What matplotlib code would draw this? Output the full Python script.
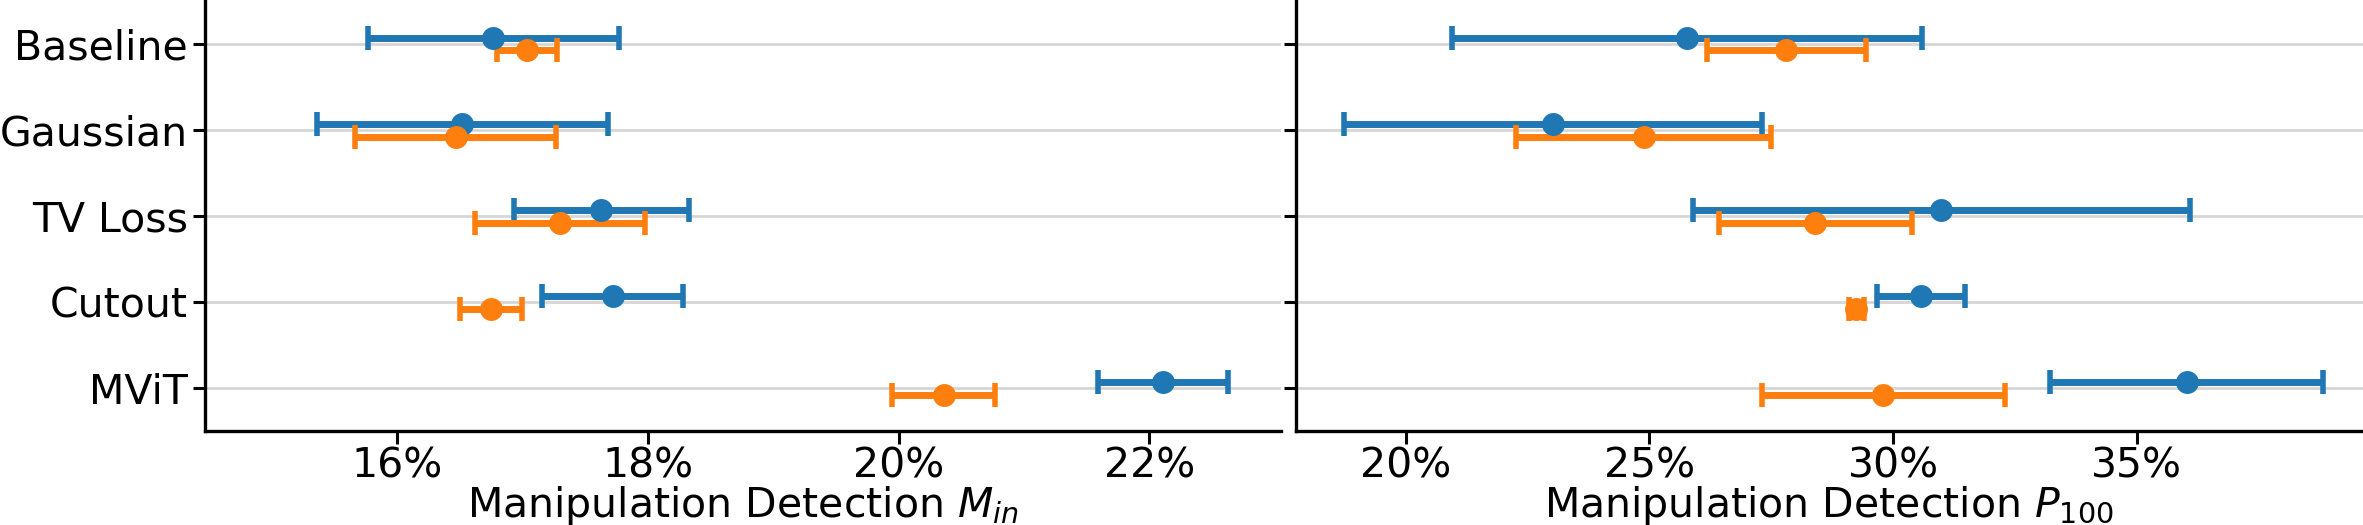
import matplotlib
matplotlib.use('Agg')
import matplotlib.pyplot as plt
from matplotlib.ticker import PercentFormatter, MultipleLocator
import numpy as np

FONT_SIZE = 29.5

plt.rc('font', size=FONT_SIZE)
plt.rc('axes', labelsize=FONT_SIZE, linewidth=2.4)
plt.rc('xtick', labelsize=FONT_SIZE)
plt.rc('ytick', labelsize=FONT_SIZE)

# values, in percent
methods = ['Baseline', 'Gaussian', 'TV Loss', 'Cutout', 'MViT']

min_blue = [16.77, 16.52, 17.63, 17.72, 22.11]
min_blue_err = [1.00, 1.16, 0.70, 0.56, 0.52]
min_orange = [17.04, 16.47, 17.30, 16.75, 20.36]
min_orange_err = [0.24, 0.80, 0.68, 0.25, 0.41]

p100_blue = [25.77, 23.03, 30.99, 30.57, 36.03]
p100_blue_err = [4.83, 4.29, 5.10, 0.90, 2.80]
p100_orange = [27.81, 24.88, 28.40, 29.25, 29.80]
p100_orange_err = [1.63, 2.62, 1.98, 0.15, 2.49]

panels = [
    (r'Manipulation Detection $M_{in}$', min_blue, min_blue_err,
     min_orange, min_orange_err, (14.47, 23.05), 2),
    (r'Manipulation Detection $P_{100}$', p100_blue, p100_blue_err,
     p100_orange, p100_orange_err, (17.74, 39.64), 5),
]


def do_plot():
    W, H = 2363, 525
    f = plt.figure(figsize=(W / 100, H / 100), dpi=100)
    bottom = (H - 431.3) / H
    height = 430.3 / H
    boxes = [(205 / W, bottom, 1076 / W, height),
             (1295.7 / W, bottom, 1067 / W, height)]
    y = np.arange(len(methods))
    off = 0.075
    for i, (label, b, be, o, oe, lim, step) in enumerate(panels):
        ax = f.add_axes(boxes[i])
        ax.grid(axis='y', color='#d6d6d6', linewidth=2, zorder=0)
        ax.set_axisbelow(True)
        for vals, errs, dy, col in [(b, be, -off, '#1f77b4'),
                                    (o, oe, off, '#ff7f0e')]:
            ax.errorbar(vals, y + dy, xerr=errs, fmt='o', color=col,
                        markersize=15.5, elinewidth=5,
                        capsize=8.5, capthick=4, zorder=3)
        ax.set_yticks(y)
        if i == 0:
            ax.set_yticklabels(methods)
        else:
            ax.set_yticklabels([])
        ax.set_ylim(len(methods) - 0.5, -0.5)
        ax.set_xlim(*lim)
        ax.xaxis.set_major_locator(MultipleLocator(step))
        ax.xaxis.set_major_formatter(PercentFormatter(decimals=0))
        ax.tick_params(length=9, width=2.2)
        ax.tick_params(axis='x', pad=1.8)
        ax.spines['top'].set_visible(False)
        ax.spines['right'].set_visible(False)
        ax.set_xlabel(label, labelpad=-2)
    plt.savefig('out.png', dpi=100)


if __name__ == '__main__':
    do_plot()
